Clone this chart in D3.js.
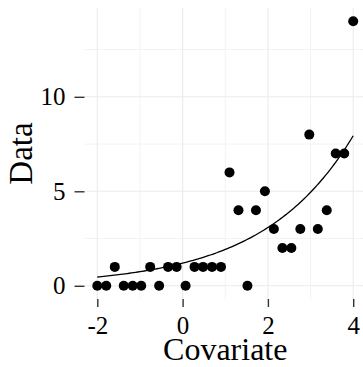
<!DOCTYPE html>
<html>
<head>
<meta charset="utf-8">
<script src="https://cdn.jsdelivr.net/npm/d3@7"></script>
<style>
  html, body { margin: 0; padding: 0; background: #fff; }
  svg { display: block; }
  text { font-family: "Liberation Serif", "Times New Roman", serif; fill: #000; }
</style>
</head>
<body>
<svg id="chart" width="363" height="367"></svg>
<script>
// Observations: covariate and count response
const covariate = [-2.00, -1.79, -1.59, -1.38, -1.17, -0.97, -0.76, -0.55, -0.34, -0.14,
                   0.07, 0.28, 0.48, 0.69, 0.90, 1.10, 1.31, 1.52, 1.72, 1.93,
                   2.14, 2.34, 2.55, 2.76, 2.97, 3.17, 3.38, 3.59, 3.79, 4.00];
const counts = [0, 0, 1, 0, 0, 0, 1, 0, 1, 1,
                0, 1, 1, 1, 1, 6, 4, 0, 4, 5,
                3, 2, 2, 3, 8, 3, 4, 7, 7, 14];

// Fitted log-linear mean curve: exp(intercept + slope * x)
const fitIntercept = 0.18;
const fitSlope = 0.473;
const fitRange = [-2, 4];

const xTicks = [-2, 0, 2, 4];
const xMinor = [-1, 1, 3];
const yTicks = [0, 5, 10];
const yMinor = [2.5, 7.5, 12.5];
const xTitle = "Covariate";
const yTitle = "Data";

const panel = { left: 84.5, right: 366, top: 8, bottom: 299 };
const x = d3.scaleLinear().domain([-2.3, 4.3]).range([panel.left, panel.right]);
const y = d3.scaleLinear().domain([-0.7, 14.7]).range([panel.bottom, panel.top]);

const svg = d3.select("#chart");

// grid
const grid = svg.append("g");
grid.selectAll("line.xmin").data(xMinor).join("line")
  .attr("x1", d => x(d)).attr("x2", d => x(d))
  .attr("y1", panel.top).attr("y2", panel.bottom)
  .attr("stroke", "#f3f3f3").attr("stroke-width", 1);
grid.selectAll("line.ymin").data(yMinor).join("line")
  .attr("y1", d => y(d)).attr("y2", d => y(d))
  .attr("x1", panel.left).attr("x2", panel.right)
  .attr("stroke", "#f3f3f3").attr("stroke-width", 1);
grid.selectAll("line.xmaj").data(xTicks).join("line")
  .attr("x1", d => x(d)).attr("x2", d => x(d))
  .attr("y1", panel.top).attr("y2", panel.bottom)
  .attr("stroke", "#ebebeb").attr("stroke-width", 1.1);
grid.selectAll("line.ymaj").data(yTicks).join("line")
  .attr("y1", d => y(d)).attr("y2", d => y(d))
  .attr("x1", panel.left).attr("x2", panel.right)
  .attr("stroke", "#ebebeb").attr("stroke-width", 1.1);

// axes: ticks only, no domain line
const xAxis = svg.append("g")
  .attr("transform", `translate(0,${panel.bottom})`)
  .call(d3.axisBottom(x).tickValues(xTicks).tickSize(8).tickPadding(9).tickFormat(d3.format("d")));
const yAxis = svg.append("g")
  .attr("transform", `translate(${panel.left},0)`)
  .call(d3.axisLeft(y).tickValues(yTicks).tickSize(10).tickPadding(9).tickFormat(d3.format("d")));
[xAxis, yAxis].forEach(g => {
  g.select(".domain").remove();
  g.selectAll(".tick line").attr("stroke", "#333").attr("stroke-width", 1.4);
  g.selectAll(".tick text").attr("font-size", 25)
    .style("font-family", '"Liberation Serif", serif').attr("fill", "#000");
});
xAxis.selectAll(".tick text").text(d => d < 0 ? "-" + Math.abs(d) : d);

// fitted curve
const curveX = d3.range(0, 121).map(i => fitRange[0] + (fitRange[1] - fitRange[0]) * i / 120);
svg.append("path")
  .datum(curveX)
  .attr("fill", "none").attr("stroke", "#000").attr("stroke-width", 1.3)
  .attr("d", d3.line().x(d => x(d)).y(d => y(Math.exp(fitIntercept + fitSlope * d))));

// points
svg.append("g").selectAll("circle")
  .data(covariate.map((c, i) => [c, counts[i]]))
  .join("circle")
  .attr("cx", d => x(d[0])).attr("cy", d => y(d[1]))
  .attr("r", 5).attr("fill", "#000");

// titles
svg.append("text")
  .attr("x", (panel.left + panel.right) / 2).attr("y", 360)
  .attr("text-anchor", "middle").attr("font-size", 32)
  .text(xTitle);
svg.append("text")
  .attr("transform", `translate(32,${(panel.top + panel.bottom) / 2}) rotate(-90)`)
  .attr("text-anchor", "middle").attr("font-size", 33)
  .text(yTitle);
</script>
</body>
</html>
